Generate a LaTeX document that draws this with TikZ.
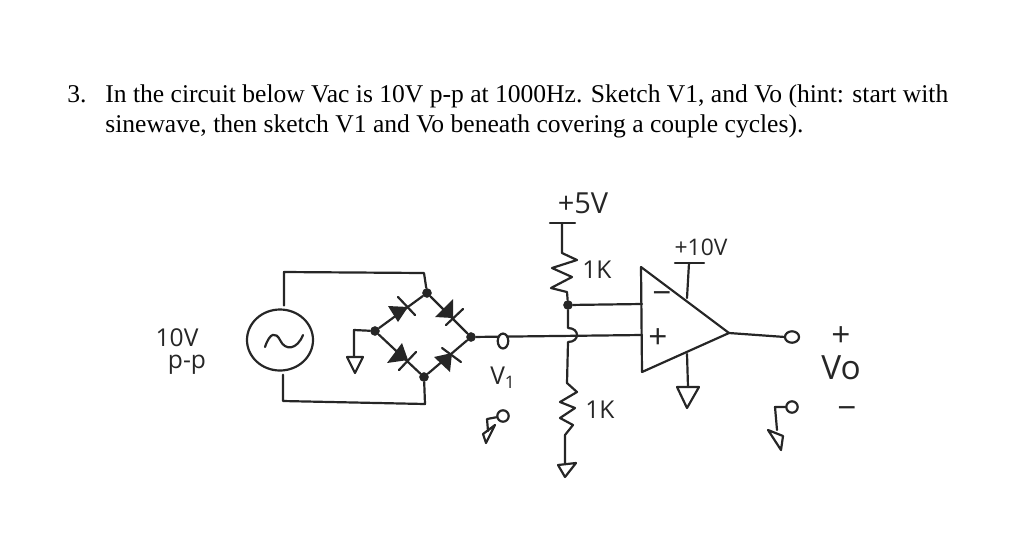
\documentclass[tikz,border=0pt]{standalone}
\usepackage{fontspec}
\setmainfont{Liberation Serif}
\newfontfamily\handfont{Open Sans}
\tikzset{
  wire/.style={line width=1.25pt,line cap=round,line join=round,draw=black!85},
  dot/.style={circle,fill=black!85,inner sep=0pt,minimum size=5.5pt},
  term/.style={ellipse,draw=black!85,line width=1.25pt,fill=white,inner sep=0pt,minimum width=#1},
  term/.default=7pt,
  question/.style={anchor=base west,inner sep=0pt,font=\fontsize{14.55}{17}\selectfont},
  hand/.style={inner sep=0pt,font=\handfont\fontsize{14}{16}\selectfont,text=black!85},
  handbig/.style={hand,font=\handfont\fontsize{19}{22}\selectfont}
}
\usetikzlibrary{shapes.geometric}
\begin{document}
\begin{tikzpicture}[x=0.02cm,y=-0.02cm]
\useasboundingbox (0,0) rectangle (1024,542);

\node[question] (num) at (67,102) {3.};
\node[question] (line1) at (105,102) {In the circuit below Vac is 10V p-p at 1000Hz. Sketch V1, and Vo (hint: start with};
\node[question] (line2) at (105,132) {sinewave, then sketch V1 and Vo beneath covering a couple cycles).};

\node[hand] (vac) at (177,338) {10V};
\node[hand] (pp) at (187,365) {p-p};
\node[hand,font=\handfont\fontsize{16.5}{18}\selectfont] (plus5) at (583,203) {+5V};
\node[hand,font=\handfont\fontsize{13}{16}\selectfont] (plus10) at (701,247) {+10V};
\node[hand] (r1) at (597,270) {1K};
\node[hand] (r2) at (600,410) {1K};
\node[hand] (v1) at (503,378) {V\textsubscript{1}};
\node[handbig] (vplus) at (841,337) {+};
\node[handbig] (vo) at (841,368) {Vo};
\node[handbig] (vminus) at (847,413) {−};
\node[handbig] (opminus) at (662,298) {−};
\node[handbig] (opplus) at (658,339) {+};

\node[draw=black!85,line width=1.25pt,ellipse,minimum width=66*0.02cm,minimum height=61*0.02cm,inner sep=0pt] (src) at (280,340) {};
\draw[wire] (265,347) .. controls (270,332) and (276,332) .. (280,340) .. controls (285,351) and (297,350) .. (303,335);

\node[dot] (top) at (427,293) {};
\node[dot] (left) at (375,331) {};
\node[dot] (right) at (471,337) {};
\node[dot] (bot) at (424,377) {};
\node[dot] (mid) at (568,305) {};

\coordinate (c1) at (284,272);
\coordinate (c2) at (424,273);
\coordinate (c3) at (283,401);
\coordinate (c4) at (425,404);
\draw[wire] (src.north) ++(4,-3) -- (c1) -- (c2) -- (top);
\draw[wire] (src.south) ++(3,3) -- (c3) -- (c4) -- (bot);
\draw[wire] (left) -- (top) -- (right) -- (bot) -- (left);

\coordinate (g1) at (354,330);
\coordinate (g2) at (354,357);
\draw[wire] (left) -- (g1) -- (g2);
\draw[wire] (347,357) -- (363,357) -- (355,373) -- cycle;

\draw[wire] (398,297) -- (415,315);
\fill[black!85] (388,306) -- (408,307) -- (398,322) -- cycle;
\draw[wire] (446,325) -- (463,309);
\fill[black!85] (435,317) -- (453,299) -- (453,318) -- cycle;
\draw[wire] (399,370) -- (416,352);
\fill[black!85] (387,363) -- (402,343) -- (408,360) -- cycle;
\draw[wire] (442,348) -- (461,362);
\fill[black!85] (434,357) -- (452,353) -- (450,372) -- cycle;

\coordinate (oa) at (641,267);
\coordinate (ob) at (729,333);
\coordinate (oc) at (642,372);
\coordinate (inm) at (642,304);
\coordinate (inp) at (642,335);
\coordinate (vcc) at (687,298);
\coordinate (vee) at (687,354);
\draw[wire] (oa) -- (ob) -- (oc) -- cycle;

\draw[wire] (right) -- (inp);
\node[term=6pt,minimum height=8.5pt] (v1t) at (503,341) {};
\draw[wire] (mid) -- (inm);

\coordinate (hopa) at (568,328);
\coordinate (hopb) at (568,342);
\draw[wire] (mid) -- (hopa) .. controls (580,328) and (580,342) .. (hopb) -- (567,383)
  -- (577,392) -- (560,402) -- (575,408) -- (560,418) -- (573,425) -- (565,435) -- (565,463);
\draw[wire] (558,465) -- (576,463) -- (565,477) -- cycle;

\coordinate (r1a) at (562,223);
\draw[wire] (550,223) -- (575,223);
\draw[wire] (r1a) -- (562,253) -- (577,260) -- (552,268) -- (572,277) -- (551,288) -- (567,292) -- (mid);

\coordinate (vccb) at (689,263);
\draw[wire] (vcc) -- (vccb);
\draw[wire] (675,263) -- (704,263);

\coordinate (veeb) at (688,387);
\draw[wire] (vee) -- (veeb);
\draw[wire] (677,387) -- (699,387) -- (687,408) -- cycle;

\draw[wire] (ob) -- (785,337);
\node[term=8pt,minimum height=6.5pt] (out) at (792,337) {};

\node[term=6.5pt,minimum height=6.5pt] (v1g) at (503,416) {};
\coordinate (v1ga) at (487,419);
\coordinate (v1gb) at (488,431);
\draw[wire] (v1g) -- (v1ga) -- (v1gb);
\draw[wire] (483,434) -- (495,425) -- (486,443) -- cycle;

\node[term=6.5pt,minimum height=6.5pt] (outg) at (792,407) {};
\coordinate (outga) at (775,407);
\coordinate (outgb) at (777,430);
\draw[wire] (outg) -- (outga) -- (outgb);
\draw[wire] (768,430) -- (783,436) -- (781,450) -- cycle;

\end{tikzpicture}
\end{document}
